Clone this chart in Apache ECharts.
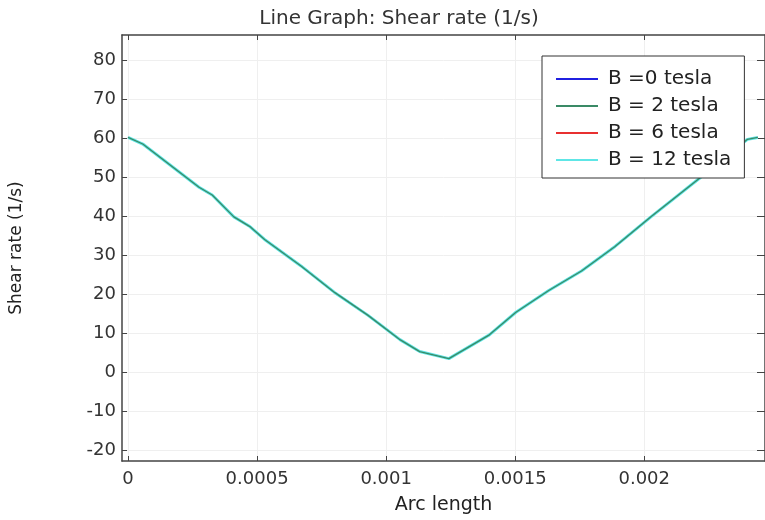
<!DOCTYPE html>
<html>
<head>
    <meta charset="utf-8">
    <title>Line Graph: Shear rate</title>
    <script src="https://cdn.jsdelivr.net/npm/echarts@6/dist/echarts.min.js"></script>
</head>
<body style="margin:0">
    <div id="main" style="width:765px;height:520px;"></div>
    <script type="text/javascript">
        // arc length (m) along the cut line
        var arcLength = [0, 0.000057, 0.000275, 0.000326, 0.00041, 0.000472, 0.000529, 0.00067, 0.0008, 0.00093,
            0.001055, 0.00113, 0.001243, 0.0014, 0.001503, 0.00163, 0.001757, 0.001887, 0.002026, 0.002218,
            0.002372, 0.0024, 0.00244]
        // shear rate (1/s), the four curves lie on top of each other
        var shearB0 = [60.3, 58.6, 47.5, 45.5, 39.9, 37.4, 34.1, 27.3, 20.5, 14.6, 8.3, 5.3, 3.5, 9.6, 15.4, 21, 26, 32.3, 39.9, 50, 58.3, 59.8, 60.3]
        var shearB2 = [60.3, 58.6, 47.5, 45.5, 39.9, 37.4, 34.1, 27.3, 20.5, 14.6, 8.3, 5.3, 3.5, 9.6, 15.4, 21, 26, 32.3, 39.9, 50, 58.3, 59.8, 60.3]
        var shearB6 = [60.3, 58.6, 47.5, 45.5, 39.9, 37.4, 34.1, 27.3, 20.5, 14.6, 8.3, 5.3, 3.5, 9.6, 15.4, 21, 26, 32.3, 39.9, 50, 58.3, 59.8, 60.3]
        var shearB12 = [60.3, 58.6, 47.5, 45.5, 39.9, 37.4, 34.1, 27.3, 20.5, 14.6, 8.3, 5.3, 3.5, 9.6, 15.4, 21, 26, 32.3, 39.9, 50, 58.3, 59.8, 60.3]
        var seriesNames = ['B =0 tesla', 'B = 2 tesla', 'B = 6 tesla', 'B = 12 tesla']
        var xTicks = [0, 0.0005, 0.001, 0.0015, 0.002]
        var yTicks = [-20, -10, 0, 10, 20, 30, 40, 50, 60, 70, 80]

        function pairs(ys) {
            var out = []
            for (var i = 0; i < arcLength.length; i++) out.push([arcLength[i], ys[i]])
            return out
        }

        var axisColor = '#444'
        var font = 'DejaVu Sans'
        var xMin = -0.0000235, xMax = 0.002468
        var yMin = -22.8, yMax = 86.6
        var myChart = echarts.init(document.getElementById('main'))
        var option = {
            animation: false,
            title: {
                text: 'Line Graph: Shear rate (1/s)',
                left: 394,
                textAlign: 'center',
                top: 4,
                textStyle: { fontFamily: font, fontSize: 20, fontWeight: 'normal', color: '#333' }
            },
            legend: {
                data: seriesNames,
                orient: 'vertical',
                left: 542,
                top: 56,
                padding: [13, 13, 8, 13],
                itemWidth: 42,
                itemHeight: 14,
                itemGap: 7,
                backgroundColor: '#fff',
                borderColor: '#333',
                borderWidth: 1,
                borderRadius: 0,
                itemStyle: { opacity: 0 },
                lineStyle: { width: 2 },
                textStyle: { fontFamily: font, fontSize: 20, color: '#222', padding: [0, 0, 0, 5] },
                z: 10
            },
            grid: { left: 119, top: 35, right: -3, bottom: 52 },
            xAxis: [{
                type: 'value',
                position: 'bottom',
                min: xMin,
                max: xMax,
                name: 'Arc length',
                nameLocation: 'middle',
                nameGap: 35,
                nameTextStyle: { fontFamily: font, fontSize: 19, color: '#222' },
                axisLine: { onZero: false, lineStyle: { color: axisColor, width: 1.5 } },
                axisTick: { inside: true, length: 5, customValues: xTicks, lineStyle: { color: axisColor } },
                axisLabel: { customValues: xTicks, fontFamily: font, fontSize: 18, color: '#333', margin: 9,
                    formatter: function (v) { return String(v) } },
                splitLine: { show: true, lineStyle: { color: '#efefef' } }
            }, {
                type: 'value',
                position: 'top',
                min: xMin,
                max: xMax,
                axisLine: { onZero: false, lineStyle: { color: axisColor, width: 1.5 } },
                axisTick: { inside: true, length: 5, customValues: xTicks, lineStyle: { color: axisColor } },
                axisLabel: { show: false },
                splitLine: { show: false }
            }],
            yAxis: [{
                type: 'value',
                position: 'left',
                min: yMin,
                max: yMax,
                name: 'Shear rate (1/s)',
                nameLocation: 'middle',
                nameRotate: 90,
                nameGap: 97,
                nameTextStyle: { fontFamily: font, fontSize: 17, color: '#222' },
                axisLine: { onZero: false, lineStyle: { color: axisColor, width: 1.5 } },
                axisTick: { inside: true, length: 5, customValues: yTicks, lineStyle: { color: axisColor } },
                axisLabel: { customValues: yTicks, fontFamily: font, fontSize: 18, color: '#333', margin: 6 },
                splitLine: { show: true, lineStyle: { color: '#efefef' } }
            }, {
                type: 'value',
                position: 'right',
                min: yMin,
                max: yMax,
                axisLine: { show: true, onZero: false, lineStyle: { color: axisColor, width: 1.5 } },
                axisTick: { show: true, inside: true, length: 8, customValues: yTicks, lineStyle: { color: axisColor } },
                axisLabel: { show: false },
                splitLine: { show: false }
            }],
            series: [
                { name: seriesNames[0], type: 'line', data: pairs(shearB0), showSymbol: false, symbol: 'none',
                  color: '#2020e0', lineStyle: { width: 1.5 }, z: 2 },
                { name: seriesNames[2], type: 'line', data: pairs(shearB6), showSymbol: false, symbol: 'none',
                  color: '#e83030', lineStyle: { width: 1.5 }, z: 3 },
                { name: seriesNames[3], type: 'line', data: pairs(shearB12), showSymbol: false, symbol: 'none',
                  color: '#5ee6e6', lineStyle: { width: 3 }, z: 4 },
                { name: seriesNames[1], type: 'line', data: pairs(shearB2), showSymbol: false, symbol: 'none',
                  color: '#3a8a66', lineStyle: { width: 1.3 }, z: 5 }
            ]
        };
        myChart.setOption(option);
    </script>
</body>
</html>
